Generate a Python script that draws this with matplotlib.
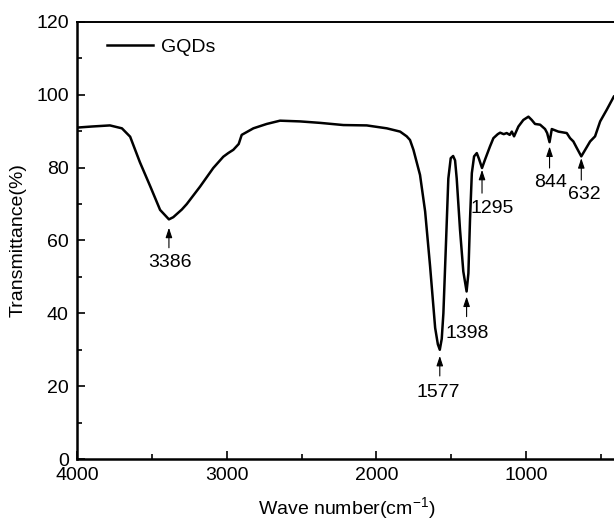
import matplotlib
matplotlib.use("Agg")
import matplotlib.pyplot as plt
from matplotlib.ticker import MultipleLocator

plt.rcParams['font.family'] = ['Liberation Sans', 'DejaVu Sans']
plt.rcParams['font.size'] = 14

# FTIR spectrum of GQDs
wavenumber = [4000, 3900, 3780, 3700, 3645, 3580, 3510, 3445, 3386, 3357,
              3300, 3267, 3178, 3090, 3023, 2990, 2956, 2920, 2900, 2822,
              2733, 2644, 2510, 2377, 2221, 2065, 1931, 1842, 1798, 1776,
              1753, 1709, 1675, 1642, 1608, 1590, 1577, 1564, 1553, 1535,
              1520, 1504, 1488, 1475, 1464, 1442, 1420, 1398, 1386, 1375,
              1363, 1348, 1330, 1316, 1295, 1275, 1242, 1219, 1190, 1174,
              1150, 1130, 1110, 1096, 1081, 1052, 1019, 985, 963, 941,
              907, 874, 860, 844, 829, 785, 729, 707, 685, 662,
              632, 606, 573, 540, 506, 462, 415]
transmittance = [91.0, 91.3, 91.6, 90.8, 88.5, 81.5, 74.8, 68.4, 65.8, 66.4,
                 68.5, 70.0, 74.8, 79.9, 83.0, 84.0, 84.9, 86.5, 89.0, 90.8,
                 92.0, 92.9, 92.7, 92.3, 91.7, 91.6, 90.8, 89.9, 88.6, 87.6,
                 84.9, 78.0, 68.0, 53.0, 36.0, 31.5, 30.0, 33.0, 40.0, 60.0,
                 77.0, 82.6, 83.2, 82.0, 77.0, 63.0, 51.5, 46.0, 51.0, 66.0,
                 78.5, 83.1, 84.0, 82.5, 79.9, 82.2, 85.8, 88.1, 89.2, 89.6,
                 89.2, 89.5, 89.0, 89.9, 88.6, 91.3, 93.1, 94.0, 93.1, 92.0,
                 91.8, 90.6, 89.5, 87.0, 90.6, 89.9, 89.5, 88.1, 87.2, 85.4,
                 83.1, 84.9, 87.2, 88.6, 92.7, 95.9, 99.5]

# peak annotations: label, arrow x, arrow tip/tail y, text x, text baseline y
peak_labels = ['3386', '1577', '1398', '1295', '844', '632']
arrow_x = [3386, 1577, 1398, 1295, 844, 632]
arrow_tip = [63.5, 28.3, 44.6, 79.4, 85.8, 82.6]
arrow_tail = [58.0, 22.8, 39.1, 73.0, 79.9, 76.6]
text_x = [3379, 1590, 1395, 1230, 835, 612]
text_y = [52.8, 17.1, 33.1, 67.5, 74.8, 71.3]

fig = plt.figure(figsize=(6.14, 5.21), dpi=100)
ax = fig.add_axes([0.1254, 0.119, 0.8779, 0.8388])

ax.plot(wavenumber, transmittance, color='black', lw=1.8, label='GQDs')

for lab, ax_x, tip, tail, tx, ty in zip(peak_labels, arrow_x, arrow_tip,
                                        arrow_tail, text_x, text_y):
    ax.annotate('', xy=(ax_x, tip), xytext=(ax_x, tail),
                arrowprops=dict(arrowstyle='-|>,head_length=0.42,head_width=0.14',
                                color='black', lw=0.8, shrinkA=0, shrinkB=0))
    ax.text(tx, ty, lab, ha='center', va='baseline', fontsize=14)

ax.set_xlim(4000, 400)
ax.set_ylim(0, 120)
ax.xaxis.set_major_locator(MultipleLocator(1000))
ax.xaxis.set_minor_locator(MultipleLocator(500))
ax.yaxis.set_major_locator(MultipleLocator(20))
ax.yaxis.set_minor_locator(MultipleLocator(10))
ax.tick_params(which='both', direction='in', width=1.2, top=False, right=False)
ax.tick_params(which='major', length=6, pad=6, labelsize=14)
ax.tick_params(which='minor', length=3.5)

ax.spines['left'].set_linewidth(1.8)
ax.spines['bottom'].set_linewidth(1.8)
ax.spines['top'].set_linewidth(1.4)
ax.spines['right'].set_visible(False)

ax.set_xlabel(r'Wave number(cm$^{\mathregular{-1}}$)', fontsize=14, labelpad=8)
ax.set_ylabel('Transmittance(%)', fontsize=14, labelpad=7)

ax.legend(loc='upper left', bbox_to_anchor=(0.055, 0.962), frameon=False,
          borderpad=0, borderaxespad=0, handlelength=2.4, handletextpad=0.4,
          fontsize=14)

fig.savefig('out.png', dpi=100)
